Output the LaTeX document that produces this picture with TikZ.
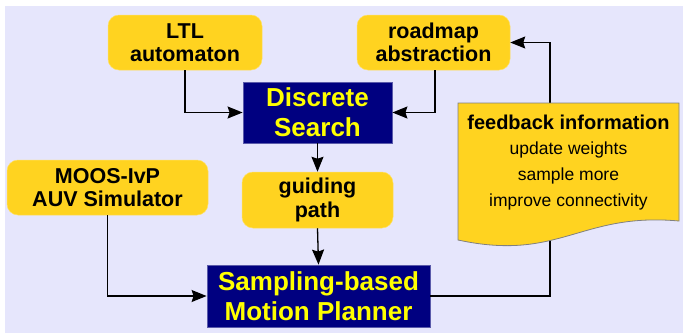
\documentclass[tikz,border=0pt]{standalone}
\usepackage{fontspec}
\setmainfont{Liberation Sans}
\usetikzlibrary{arrows.meta}
\definecolor{bgc}{RGB}{230,230,252}
\definecolor{gold}{RGB}{255,211,32}
\definecolor{navyc}{RGB}{0,0,128}
\definecolor{yel}{RGB}{255,255,0}
\tikzset{
  goldbox/.style={fill=gold, draw=gold!70!white, line width=0.5pt, rounded corners=11pt, align=center, inner sep=0pt,
    font=\fontsize{21.5}{23.5}\selectfont\bfseries, text=black},
  navybox/.style={fill=navyc, draw={rgb,255:red,90;green,90;blue,170}, line width=0.8pt, align=center, inner sep=0pt,
    font=\fontsize{26}{30}\selectfont\bfseries, text=yel},
  arr/.style={line width=1.3pt, -{Stealth[length=15pt,width=12pt,inset=2pt]}},
  fbtext/.style={align=center, inner sep=0pt, text=black, font=\fontsize{17.5}{26}\selectfont}
}
\begin{document}
\begin{tikzpicture}[x=1pt,y=-1pt]
\useasboundingbox (0,0) rectangle (683,333);
\fill[bgc] (5,6) rectangle (683,333);

\node[goldbox, minimum width=154pt, minimum height=55pt] (ltl) at (185,42.5) {LTL\\automaton};
\node[goldbox, minimum width=153pt, minimum height=55pt] (rm) at (433.5,42.5) {roadmap\\abstraction};
\node[navybox, minimum width=149pt, minimum height=61pt] (ds) at (317.5,112.5) {Discrete\\Search};
\node[goldbox, minimum width=151pt, minimum height=56pt] (gp) at (317.5,200) {guiding\\path};
\node[goldbox, minimum width=201pt, minimum height=55pt] (moos) at (107.5,187.5) {MOOS-IvP\\AUV Simulator};
\node[navybox, minimum width=223pt, minimum height=62pt, font=\fontsize{26}{30.5}\selectfont\bfseries] (sp) at (318.5,296) {Sampling-based\\Motion Planner};

\coordinate (turn) at (550,42.5);
\draw[arr] (ltl.south) |- (ds.west);
\draw[arr] (rm.south -| 435,0) |- (ds.east);
\draw[arr] (ds.south) -- (gp.north);
\draw[arr] (gp.south) -- (sp.north);
\draw[arr] (moos.south) |- (sp.west);
\draw[arr] (sp.east) -| (turn) -- (rm.east);

\draw[fill=gold, draw=gray, line width=0.8pt] (458,103) -- (679,103) -- (679,221)
  .. controls (580,212) and (560,262) .. (458,240) -- cycle;
\node[fbtext, font=\fontsize{20}{22}\selectfont\bfseries] (fbt) at (568.5,122) {feedback information};
\node[fbtext] (fb) at (568.5,176) {update weights\\ sample more\\ improve connectivity};
\end{tikzpicture}
\end{document}
